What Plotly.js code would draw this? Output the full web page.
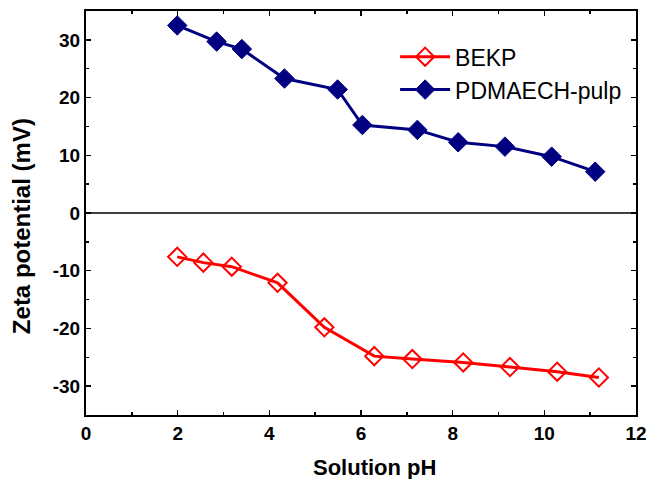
<!DOCTYPE html>
<html>
<head>
<meta charset="utf-8">
<script src="https://cdn.plot.ly/plotly-3.0.1.min.js"></script>
<style>html,body{margin:0;padding:0;background:#fff;}#chart{width:648px;height:479px;}</style>
</head>
<body>
<div id="chart"></div>
<script>
const bekpPH = [1.99, 2.56, 3.18, 4.18, 5.2, 6.29, 7.12, 8.23, 9.25, 10.28, 11.19];
const bekpZeta = [-7.6, -8.6, -9.3, -12.1, -19.8, -24.8, -25.3, -25.9, -26.7, -27.5, -28.5];
const pulpPH = [1.99, 2.85, 3.40, 4.33, 5.49, 6.03, 7.23, 8.12, 9.14, 10.16, 11.11];
const pulpZeta = [32.5, 29.7, 28.4, 23.3, 21.4, 15.25, 14.4, 12.25, 11.5, 9.76, 7.16];
const seriesNames = ["BEKP", "PDMAECH-pulp"];
const xTickVals = [0, 2, 4, 6, 8, 10, 12];
const xTickText = ["0", "2", "4", "6", "8", "10", "12"];
const yTickVals = [-30, -20, -10, 0, 10, 20, 30];
const yTickText = ["-30", "-20", "-10", "0", "10", "20", "30"];
const xTitle = "Solution pH";
const yTitle = "Zeta potential (mV)";

const F = "Liberation Sans, Arial, Helvetica, sans-serif";

const traces = [
  {x: bekpPH, y: bekpZeta, name: seriesNames[0], mode: "lines+markers", type: "scatter",
   line: {color: "#ff0000", width: 3},
   marker: {symbol: "diamond-open", size: 14, color: "#ff0000", line: {color: "#ff0000", width: 2}}},
  {x: pulpPH, y: pulpZeta, name: seriesNames[1], mode: "lines+markers", type: "scatter",
   line: {color: "#000080", width: 3},
   marker: {symbol: "diamond", size: 15, color: "#000080", line: {color: "#000080", width: 1}}}
];

const axisCommon = {
  showgrid: false, zeroline: false, showline: true, linecolor: "#000", linewidth: 2,
  mirror: "allticks", ticks: "inside", ticklen: 5, tickwidth: 1.5, tickcolor: "#000",
  tickfont: {family: F, size: 19, color: "#000", weight: "bold"}
};

const layout = {
  width: 648, height: 479,
  margin: {l: 86, r: 12, t: 11, b: 64},
  paper_bgcolor: "#fff", plot_bgcolor: "#fff",
  showlegend: true,
  legend: {x: 0.562, y: 0.94, xanchor: "left", yanchor: "top", bgcolor: "rgba(0,0,0,0)",
    font: {family: F, size: 23, color: "#000"}, itemwidth: 50, tracegroupgap: 0},
  xaxis: Object.assign({}, axisCommon, {
    range: [0, 12], tickmode: "array", tickvals: xTickVals, ticktext: xTickText,
    minor: {ticks: "inside", dtick: 1, tick0: 0, ticklen: 3, tickwidth: 1.5, tickcolor: "#000"}
  }),
  yaxis: Object.assign({}, axisCommon, {
    range: [-35, 35], tickmode: "array", tickvals: yTickVals, ticktext: yTickText,
    minor: {ticks: "inside", dtick: 5, tick0: 0, ticklen: 3, tickwidth: 1.5, tickcolor: "#000"}
  }),
  annotations: [
    {text: xTitle, xref: "paper", yref: "paper", x: 0.525, y: -0.131, xanchor: "center", yanchor: "middle",
     showarrow: false, font: {family: F, size: 22, color: "#000", weight: "bold"}},
    {text: yTitle, xref: "paper", yref: "paper", x: -0.116, y: 0.468, xanchor: "center", yanchor: "middle",
     textangle: -90, showarrow: false, font: {family: F, size: 24, color: "#000", weight: "bold"}}
  ],
  shapes: [{type: "line", xref: "paper", x0: 0, x1: 1, yref: "y", y0: 0, y1: 0,
    line: {color: "#000", width: 1.5}, layer: "below"}]
};

Plotly.newPlot("chart", traces, layout, {displayModeBar: false, staticPlot: true});
</script>
</body>
</html>
